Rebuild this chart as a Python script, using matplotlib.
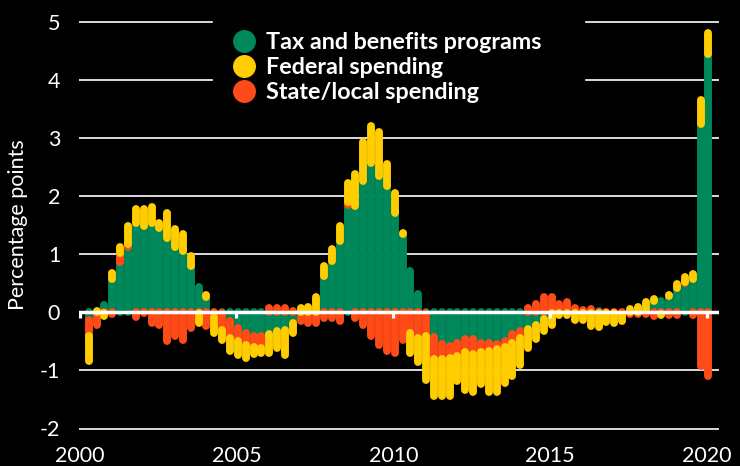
import numpy as np
import pandas as pd
import matplotlib
matplotlib.use("Agg")
import matplotlib.pyplot as plt
from matplotlib.lines import Line2D

# ---------------- data (percentage points, quarterly) ----------------
quarters = pd.period_range("2000Q2", "2020Q1", freq="Q")

tax_benefits = [-0.13, -0.02, 0.13, 0.57, 0.87, 1.13, 1.54, 1.48, 1.54, 1.45,
                1.28, 1.13, 1.05, 0.79, 0.43, 0.27, 0.01, -0.02, -0.15, -0.27,
                -0.36, -0.41, -0.41, -0.38, -0.33, -0.30, -0.18, -0.01, 0.01, 0.01,
                0.62, 0.88, 1.23, 1.85, 1.83, 2.26, 2.57, 2.35, 2.17, 1.71,
                1.34, 0.71, 0.31, -0.01, -0.43, -0.55, -0.58, -0.52, -0.46, -0.46,
                -0.52, -0.52, -0.55, -0.49, -0.38, -0.32, -0.29, -0.21, -0.12, -0.01,
                -0.01, -0.01, -0.01, -0.01, -0.01, 0.02, 0.01, 0.01, 0.01, 0.01,
                0.01, 0.05, 0.20, 0.20, 0.28, 0.42, 0.50, 0.57, 3.24, 4.44]

state_local = [-0.28, -0.20, -0.01, -0.03, 0.15, 0.05, -0.08, -0.01, -0.18, -0.21,
               -0.50, -0.41, -0.47, -0.27, -0.01, -0.23, -0.08, -0.28, -0.29, -0.23,
               -0.20, -0.18, -0.20, 0.07, 0.07, 0.07, 0.02, -0.14, -0.18, -0.18,
               -0.10, -0.10, -0.15, 0.05, -0.10, -0.21, -0.41, -0.56, -0.67, -0.70,
               -0.47, -0.35, -0.45, -0.40, -0.38, -0.26, -0.20, -0.23, -0.23, -0.26,
               -0.17, -0.14, -0.08, -0.11, -0.14, -0.13, 0.08, 0.15, 0.26, 0.26,
               0.14, 0.17, 0.08, 0.04, 0.05, -0.01, -0.01, -0.01, -0.05, -0.03,
               -0.03, -0.03, -0.06, -0.03, -0.05, -0.05, 0.03, -0.05, -0.93, -1.10]

federal = [-0.43, 0.03, -0.05, 0.11, 0.10, 0.30, 0.23, 0.29, 0.27, 0.09,
           0.43, 0.30, 0.29, 0.18, -0.17, 0.03, -0.27, -0.17, -0.23, -0.23,
           -0.23, -0.12, -0.09, -0.32, -0.28, -0.43, -0.18, 0.08, 0.08, 0.26,
           0.18, 0.21, 0.26, 0.33, 0.55, 0.67, 0.64, 0.75, 0.38, 0.35,
           0.03, -0.35, -0.40, -0.75, -0.63, -0.63, -0.66, -0.43, -0.64, -0.66,
           -0.55, -0.72, -0.75, -0.61, -0.57, -0.45, -0.32, -0.25, -0.20, -0.20,
           -0.04, -0.04, -0.12, -0.12, -0.23, -0.25, -0.15, -0.18, -0.10, 0.05,
           0.08, 0.12, 0.03, -0.02, 0.01, 0.07, 0.08, 0.09, 0.41, 0.36]

series_names = ["Tax and benefits programs", "Federal spending", "State/local spending"]
year_ticks = [2000, 2005, 2010, 2015, 2020]
y_ticks = [-2, -1, 0, 1, 2, 3, 4, 5]

GREEN = "#00875A"
YELLOW = "#FFCD00"
ORANGE = "#FF4B17"

# ---------------- figure ----------------
W, H = 740, 466
fig = plt.figure(figsize=(W / 100, H / 100), dpi=100, facecolor="black")

px_per_year = 31.375
x0_px = 79.5                      # pixel of year 2000
left_px, right_px = 79, 719
ppu = 58.1                        # pixels per percentage point
zero_px = 312.3                   # pixel row of 0 (from top)
ylo, yhi = -2.1, 5.1
top_px = zero_px - yhi * ppu
bot_px = zero_px - ylo * ppu
ax = fig.add_axes([left_px / W, 1 - bot_px / H,
                   (right_px - left_px) / W, (bot_px - top_px) / H])
ax.set_facecolor("black")
ax.set_xlim(2000 + (left_px - x0_px) / px_per_year, 2000 + (right_px - x0_px) / px_per_year)
ax.set_ylim(ylo, yhi)
for s in ax.spines.values():
    s.set_visible(False)

# gridlines (4 and 5 interrupted by the legend)
brk0 = (212 - left_px) / (right_px - left_px)
brk1 = (586 - left_px) / (right_px - left_px)
for yv in y_ticks:
    if yv == 0:
        continue
    if yv >= 4:
        ax.axhline(yv, 0, brk0, color="white", lw=1.2, zorder=1)
        ax.axhline(yv, brk1, 1, color="white", lw=1.2, zorder=1)
    else:
        ax.axhline(yv, color="white", lw=1.2, zorder=1)

# stacked rounded bars (sign separated), order: tax/benefits, state/local, federal
x = np.array([p.year + (p.quarter - 1) / 4 + 0.046 for p in quarters])
lw_pt = 7.9 * 72 / 100
pos_base = np.zeros(len(x))
neg_base = np.zeros(len(x))
for vals, col in [(tax_benefits, GREEN), (state_local, ORANGE), (federal, YELLOW)]:
    v = np.asarray(vals, dtype=float)
    base = np.where(v >= 0, pos_base, neg_base)
    top = base + v
    ax.vlines(x, base, top, colors=col, linewidth=lw_pt, capstyle="round", zorder=2)
    pos_base = np.where(v >= 0, top, pos_base)
    neg_base = np.where(v < 0, top, neg_base)

# zero line with small year ticks
ax.axhline(0, color="white", lw=2.5, zorder=5)
ax.vlines(year_ticks, 0, -0.1, colors="white", lw=2.3, zorder=5)

# ticks / labels
font = "Lato"
ax.set_yticks(y_ticks)
ax.set_yticklabels([str(t) for t in y_ticks], fontsize=15.5, color="white", family=font)
ax.set_xticks(year_ticks)
ax.set_xticklabels([str(t) for t in year_ticks], fontsize=15.5, color="white", family=font)
ax.tick_params(axis="y", length=0, pad=13.5)
ax.tick_params(axis="x", length=0, pad=8.5)

fig.text(18 / W, 1 - 225 / H, "Percentage points", rotation=90, ha="center", va="center",
         fontsize=15.5, color="white", family=font)

# legend (manual, real text)
for i, (name, col) in enumerate(zip(series_names, [GREEN, YELLOW, ORANGE])):
    cy = 41 + 25 * i
    fig.add_artist(Line2D([244 / W], [1 - cy / H], marker="o", markersize=15.5,
                          color=col, linestyle="", transform=fig.transFigure))
    fig.text(266 / W, 1 - (cy + 8.3) / H, name, ha="left", va="baseline",
             fontsize=16.8, fontweight="bold", color="white", family=font)

fig.savefig("out.png", dpi=100, facecolor="black")
